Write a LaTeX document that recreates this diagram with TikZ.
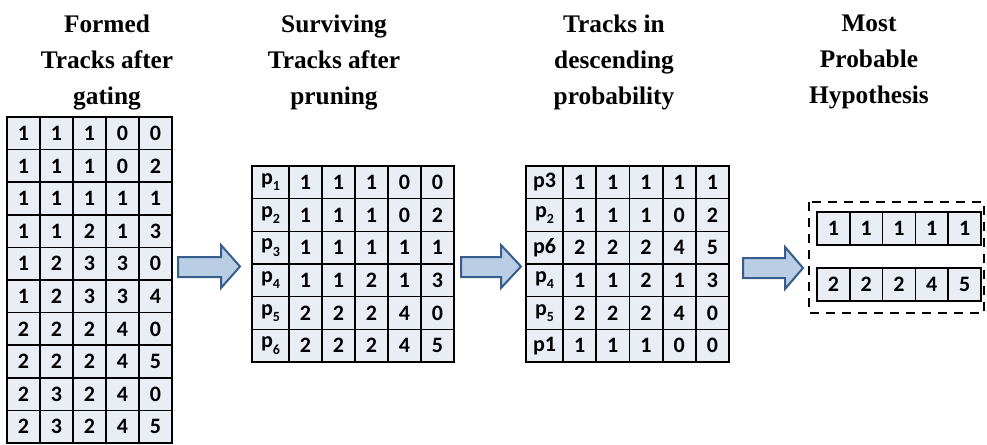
\documentclass[tikz,border=0pt]{standalone}
\usepackage{fontspec}
\usepackage{tikz}
\usetikzlibrary{arrows,positioning}
\newfontfamily\cellfamily{Carlito}
\newfontfamily\headfamily{Liberation Serif}
\definecolor{cellfill}{RGB}{233,237,244}
\definecolor{arrowfill}{RGB}{185,205,229}
\definecolor{arrowline}{RGB}{56,93,138}
\newcommand{\psub}[1]{p\raisebox{-0.6ex}{\fontsize{10.5}{10.5}\selectfont #1}}
\tikzset{
  cell/.style={draw, fill=cellfill, line width=1.2pt, inner sep=0pt,
    minimum width=24.75pt, minimum height=24.5pt,
    font=\cellfamily\bfseries\fontsize{16.5}{16.5}\selectfont},
  labcell/.style={cell, minimum width=27.75pt},
  heading/.style={anchor=north, inner sep=0pt, align=center,
    font=\headfamily\bfseries\fontsize{19}{27}\selectfont},
  blockarrow/.style={draw=arrowline, fill=arrowfill, line width=1.5pt, line join=miter},
}
\begin{document}
\begin{tikzpicture}[x=0.75pt,y=0.75pt,yscale=-1,xscale=1]
\useasboundingbox (0,0) rectangle (987,444);
% Text Node
\node[heading] (head1) at (107,15) {Formed\\Tracks after\\gating};
% Text Node
\node[heading] (head2) at (334,15) {Surviving\\Tracks after\\pruning};
% Text Node
\node[heading] (head3) at (614,15) {Tracks in\\descending\\probability};
% Text Node
\node[heading] (head4) at (869,15) {Most\\Probable\\Hypothesis};
%Shape: Table [formed tracks]
\foreach \row [count=\r] in {{1,1,1,0,0},{1,1,1,0,2},{1,1,1,1,1},{1,1,2,1,3},{1,2,3,3,0},
    {1,2,3,3,4},{2,2,2,4,0},{2,2,2,4,5},{2,3,2,4,0},{2,3,2,4,5}}
  \foreach \v [count=\c] in \row
    \node[cell] (form-\r-\c) at ({7+33*\c-16.5},{117+32.6*\r-16.3}) {\v};
%Shape: Table [surviving tracks]
\foreach \lab [count=\r] in {\psub{1},\psub{2},\psub{3},\psub{4},\psub{5},\psub{6}}
  \node[labcell] (surv-\r-0) at (270.5,{166+32.67*\r-16.33}) {\lab};
\foreach \row [count=\r] in {{1,1,1,0,0},{1,1,1,0,2},{1,1,1,1,1},{1,1,2,1,3},{2,2,2,4,0},{2,2,2,4,5}}
  \foreach \v [count=\c] in \row
    \node[cell] (surv-\r-\c) at ({289+33*\c-16.5},{166+32.67*\r-16.33}) {\v};
%Shape: Table [sorted tracks]
\foreach \lab [count=\r] in {p3,\psub{2},p6,\psub{4},\psub{5},p1}
  \node[labcell] (sort-\r-0) at (544.5,{166+32.67*\r-16.33}) {\lab};
\foreach \row [count=\r] in {{1,1,1,1,1},{1,1,1,0,2},{2,2,2,4,5},{1,1,2,1,3},{2,2,2,4,0},{1,1,1,0,0}}
  \foreach \v [count=\c] in \row
    \node[cell] (sort-\r-\c) at ({563+33.2*\c-16.6},{166+32.67*\r-16.33}) {\v};
%Shape: Table [hypothesis]
\foreach \row/\y [count=\r] in {{1,1,1,1,1}/228.5,{2,2,2,4,5}/284.5}
  \foreach \v [count=\c] in \row
    \node[cell, minimum height=24.75pt] (hyp-\r-\c) at ({817+32.8*\c-16.4},\y) {\v};
%Shape: Dashed box
\draw[line width=2pt, dash pattern=on 7pt off 5pt] (809,202) rectangle (984,313);
%Shape: Right Arrow
\draw[blockarrow] (178,257) -- (221,257) -- (221,245) -- (240,266.5) -- (221,288) -- (221,277) -- (178,277) -- cycle;
%Shape: Right Arrow
\draw[blockarrow] (461,257) -- (501,257) -- (501,245) -- (521,266.5) -- (501,288) -- (501,277) -- (461,277) -- cycle;
%Shape: Right Arrow
\draw[blockarrow] (743,258) -- (785,258) -- (785,247) -- (803,268) -- (785,289) -- (785,278) -- (743,278) -- cycle;
\end{tikzpicture}
\end{document}
